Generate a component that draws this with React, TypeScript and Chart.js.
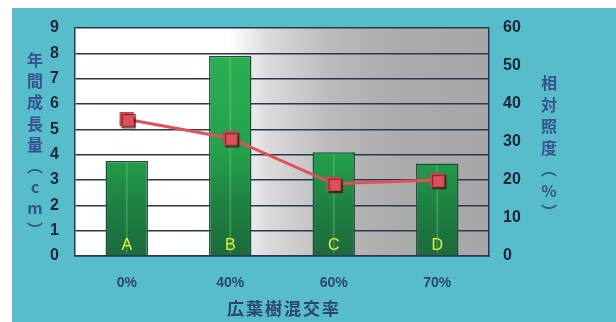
import React, { useEffect, useRef } from "react";
import { Chart, registerables } from "chart.js";

Chart.register(...registerables);

// Mixing ratio of broadleaf trees (x categories)
const categories: string[] = ["0%", "40%", "60%", "70%"];
// Stand labels printed inside each bar
const standLabels: string[] = ["A", "B", "C", "D"];
// Annual growth (cm), left axis
const annualGrowth: number[] = [3.75, 7.9, 4.1, 3.65];
// Relative illuminance (%), right axis
const relativeIlluminance: number[] = [36, 31, 19, 20];

const leftTitle: string[] = ["年", "間", "成", "長", "量", "︵", "c", "m", "︶"];
const rightTitle: string[] = ["相", "対", "照", "度", "︵", "%", "︶"];
const xTitle = "広葉樹混交率";

const TEAL = "#58bdca";
const GRID = "#2c3652";
const NAVY = "#34538f";
const TICK = "#1f2638";

const W = 616;
const H = 322;
const PLOT_L = 75;
const PLOT_R = 489;
const PLOT_T = 28;
const PLOT_B = 256;

const decorPlugin = {
  id: "decor",
  beforeDraw(chart: any) {
    const { ctx, chartArea } = chart;
    ctx.save();
    ctx.fillStyle = "#ffffff";
    ctx.fillRect(0, 0, W, H);
    ctx.fillStyle = TEAL;
    ctx.fillRect(12, 8, W - 12, H - 8);
    // plot background: white fading into grey
    const g = ctx.createLinearGradient(chartArea.left, 0, chartArea.right, 0);
    g.addColorStop(0, "#ffffff");
    g.addColorStop(0.37, "#ffffff");
    g.addColorStop(0.47, "#dadada");
    g.addColorStop(0.62, "#bababa");
    g.addColorStop(0.78, "#ababab");
    g.addColorStop(1, "#a7a7a7");
    ctx.fillStyle = g;
    ctx.fillRect(chartArea.left, chartArea.top, chartArea.right - chartArea.left, chartArea.bottom - chartArea.top);
    ctx.restore();
  },
  beforeDatasetDraw(chart: any, args: any) {
    if (args.index === 2) {
      const ctx = chart.ctx;
      ctx.save();
      ctx.shadowColor = "rgba(70,20,25,0.85)";
      ctx.shadowOffsetX = 2;
      ctx.shadowOffsetY = 2;
      ctx.shadowBlur = 1;
    }
  },
  afterDatasetDraw(chart: any, args: any) {
    if (args.index === 2) chart.ctx.restore();
    if (args.index === 1) {
      // faint highlight stripe and letter in each bar
      const ctx = chart.ctx;
      const meta = chart.getDatasetMeta(1);
      ctx.save();
      meta.data.forEach((bar: any, i: number) => {
        ctx.fillStyle = "rgba(160,230,120,0.25)";
        ctx.fillRect(bar.x - 1, bar.y + 2, 2, bar.base - bar.y - 4);
        ctx.fillStyle = "#e6ef3c";
        ctx.font = "16px 'Liberation Sans', sans-serif";
        ctx.textAlign = "center";
        ctx.textBaseline = "middle";
        ctx.fillText(standLabels[i], bar.x, 246);
      });
      ctx.restore();
    }
  },
  afterDraw(chart: any) {
    const { ctx } = chart;
    ctx.save();
    ctx.fillStyle = NAVY;
    ctx.textAlign = "center";
    ctx.textBaseline = "middle";
    ctx.font = "bold 16px 'Noto Sans CJK JP', sans-serif";
    leftTitle.forEach((ch, i) => {
      ctx.fillText(ch, 35, 60 + i * 21.2);
    });
    rightTitle.forEach((ch, i) => {
      ctx.fillText(ch, 549, 83 + i * 21.5);
    });
    ctx.font = "bold 17px 'Noto Sans CJK JP', sans-serif";
    ctx.fillStyle = "#2b4675";
    (ctx as any).letterSpacing = "2px";
    ctx.fillText(xTitle, 284, 309);
    ctx.restore();
  },
};

export default function App() {
  const ref = useRef<HTMLCanvasElement>(null);

  useEffect(() => {
    if (!ref.current) return;
    const barFill = (c: any) => {
      const area = c.chart.chartArea;
      if (!area) return "#2aa54e";
      const g = c.chart.ctx.createLinearGradient(0, area.top, 0, area.bottom);
      g.addColorStop(0, "#2eb257");
      g.addColorStop(0.55, "#23a04c");
      g.addColorStop(0.8, "#1c7f40");
      g.addColorStop(1, "#1d6a3c");
      return g;
    };

    const chart = new Chart(ref.current, {
      type: "bar",
      data: {
        labels: categories,
        datasets: [
          {
            type: "line",
            label: "相対照度",
            data: relativeIlluminance,
            yAxisID: "y1",
            borderColor: "#e0525b",
            borderWidth: 3,
            pointRadius: 0,
            order: 1,
          } as any,
          {
            type: "bar",
            label: "年間成長量",
            data: annualGrowth,
            yAxisID: "y",
            backgroundColor: barFill,
            borderColor: "#1f4f3c",
            borderWidth: 1.5,
            barPercentage: 0.41,
            categoryPercentage: 1,
            order: 2,
          },
          {
            type: "line",
            label: "相対照度 点",
            data: relativeIlluminance,
            yAxisID: "y1",
            showLine: false,
            pointStyle: "rect",
            pointRadius: 9.5,
            pointBackgroundColor: "#de4f58",
            pointBorderColor: "#c9434c",
            pointBorderWidth: 1,
            order: 0,
          } as any,
        ],
      },
      options: {
        animation: false,
        responsive: false,
        layout: { padding: { top: PLOT_T, left: 0, right: 0, bottom: 0 } },
        plugins: { legend: { display: false }, tooltip: { enabled: false } },
        scales: {
          x: {
            grid: { display: false, drawTicks: false },
            border: { display: true, color: GRID, width: 1.5 },
            ticks: {
              color: "#2b4675",
              font: { family: "'Liberation Sans', sans-serif", size: 14, weight: "bold" },
              padding: 19,
            },
            afterFit(scale: any) {
              scale.height = H - PLOT_B;
            },
          },
          y: {
            position: "left",
            min: 0,
            max: 9,
            ticks: {
              stepSize: 1,
              color: TICK,
              font: { family: "'Liberation Sans', sans-serif", size: 16, weight: "bold" },
              padding: 16,
            },
            grid: { color: GRID, lineWidth: 1.5, drawTicks: false },
            border: { display: true, color: GRID, width: 1.5 },
            afterFit(scale: any) {
              scale.width = PLOT_L;
            },
          },
          y1: {
            position: "right",
            min: 0,
            max: 60,
            ticks: {
              stepSize: 10,
              color: TICK,
              font: { family: "'Liberation Sans', sans-serif", size: 16, weight: "bold" },
              padding: 14,
            },
            grid: { drawOnChartArea: false, drawTicks: false },
            border: { display: true, color: GRID, width: 1.5 },
            afterFit(scale: any) {
              scale.width = W - PLOT_R;
            },
          },
        },
      },
      plugins: [decorPlugin],
    });
    return () => chart.destroy();
  }, []);

  return (
    <div style={{ position: "absolute", left: 0, top: 0, width: W, height: H }}>
      <canvas ref={ref} width={W} height={H} style={{ display: "block", width: W, height: H }} />
    </div>
  );
}
